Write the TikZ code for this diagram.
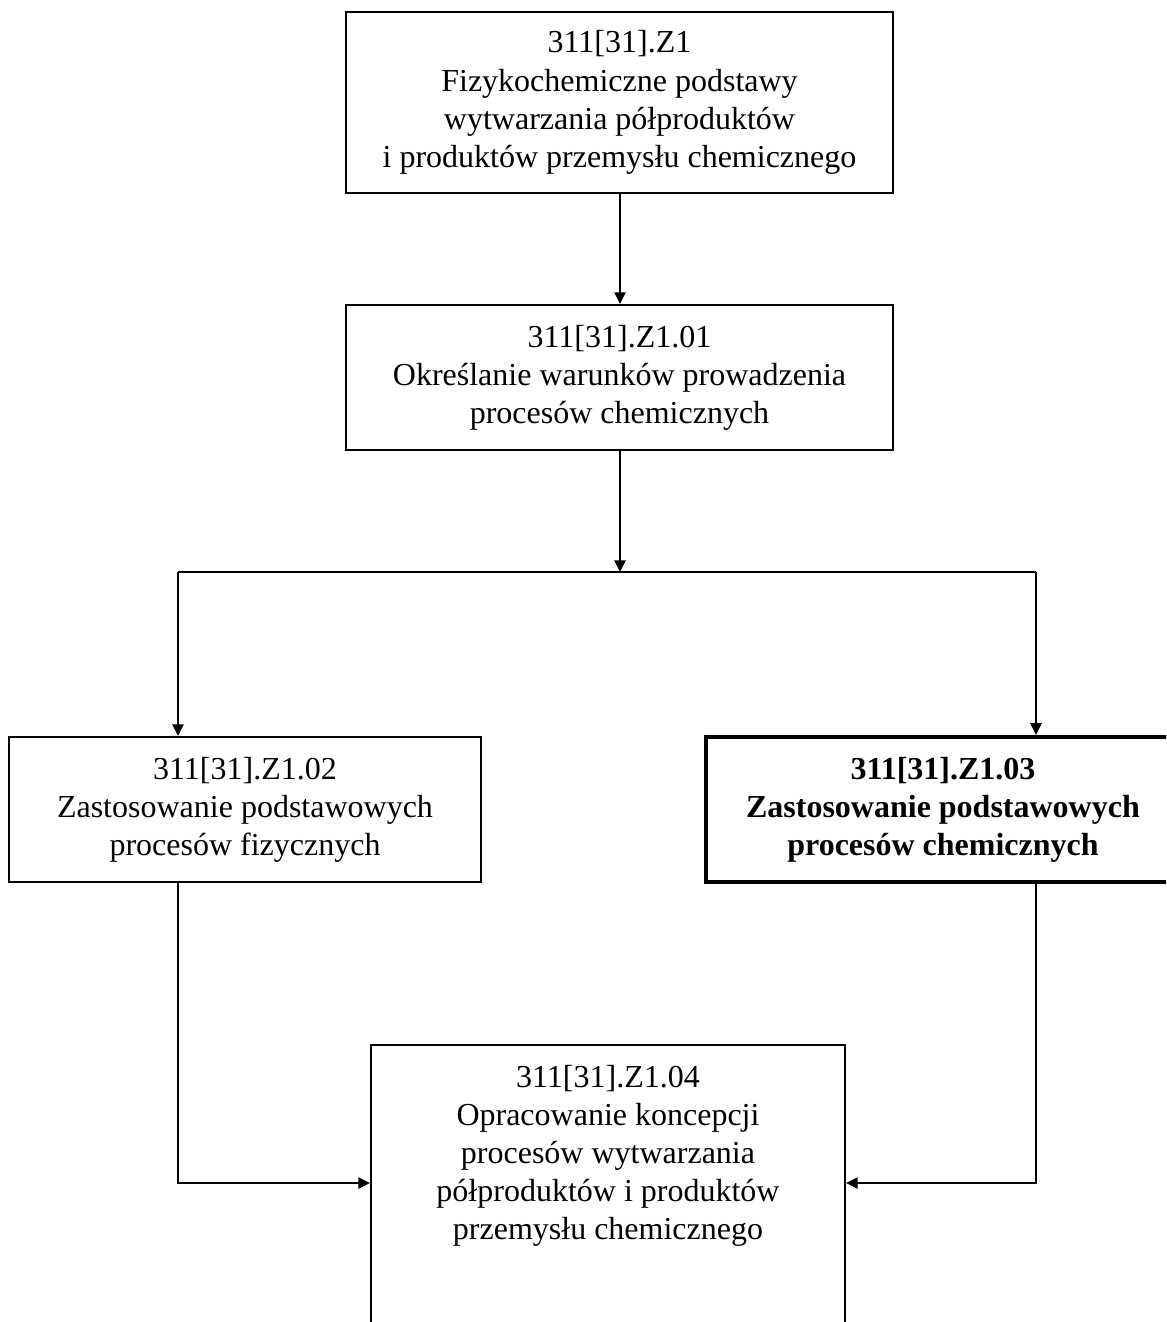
\documentclass[tikz,border=0pt]{standalone}
\usepackage{fontspec}
\setmainfont{Liberation Serif}
\usetikzlibrary{arrows.meta}
\tikzset{
  box/.style={draw, line width=0.75pt, rectangle, align=center, inner sep=0pt,
    font=\fontsize{12}{14.3}\selectfont},
  boldbox/.style={box, line width=1.6pt, font=\fontsize{12}{14.3}\selectfont\bfseries},
  conn/.style={line width=0.75pt},
  arr/.style={conn, -{Triangle[length=4.4pt,width=4.2pt]}}
}
\begin{document}
\begin{tikzpicture}[x=0.375pt,y=-0.375pt]
\clip (0,0) rectangle (1166,1322);
\fill[white] (0,0) rectangle (1166,1322);
\node[box, minimum width=547*0.375pt, minimum height=181*0.375pt] (b1) at (619.5,102.5)
  {311[31].Z1\\Fizykochemiczne podstawy\\wytwarzania półproduktów\\i produktów przemysłu chemicznego};
\node[box, minimum width=547*0.375pt, minimum height=145*0.375pt] (b2) at (619.5,377.5)
  {311[31].Z1.01\\Określanie warunków prowadzenia\\procesów chemicznych};
\node[box, minimum width=472*0.375pt, minimum height=145*0.375pt] (b3) at (245,809.5)
  {311[31].Z1.02\\Zastosowanie podstawowych\\procesów fizycznych};
\node[boldbox, minimum width=474*0.375pt, minimum height=145*0.375pt] (b4) at (943,809.5)
  {311[31].Z1.03\\Zastosowanie podstawowych\\procesów chemicznych};
\node[box, minimum width=474*0.375pt, minimum height=302*0.375pt] (b5) at (608,1196)
  {311[31].Z1.04\\Opracowanie koncepcji\\procesów wytwarzania\\półproduktów i produktów\\przemysłu chemicznego\\\strut\\\strut};
\coordinate (j) at (620,572);
\coordinate (jl) at (178,572);
\coordinate (jr) at (1036,572);
\coordinate (c1) at (178,1183);
\draw[arr] (b1.south -| j) -- (b2.north -| j);
\draw[arr] (b2.south -| j) -- (j);
\draw[conn] (jl) -- (jr);
\draw[arr] (jl) -- (b3.north -| jl);
\draw[arr] (jr) -- (b4.north -| jr);
\draw[arr] (b3.south -| jl) |- (c1 -| b5.west);
\draw[arr] (b4.south -| jr) |- (c1 -| b5.east);
\end{tikzpicture}
\end{document}
